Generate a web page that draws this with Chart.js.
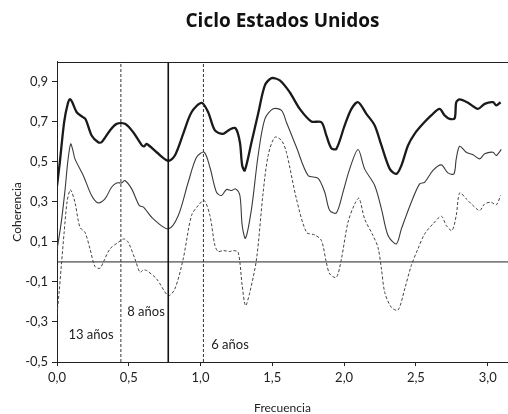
<!DOCTYPE html>
<html>
<head>
<meta charset="utf-8">
<script src="https://cdn.jsdelivr.net/npm/chart.js@4.4.1/dist/chart.umd.min.js"></script>
<style>
  body { margin: 0; background: #fff; }
  canvas { display: block; }
</style>
</head>
<body>
<canvas id="cohChart" width="508" height="414"></canvas>
<script>
/* jshint esversion: 6 */

// Tick labels
let xTicks = [0, 0.5, 1.0, 1.5, 2.0, 2.5, 3.0];
let yTicks = [-0.5, -0.3, -0.1, 0.1, 0.3, 0.5, 0.7, 0.9];
let yMin = -0.5;
let yMax = 1.0;

// Upper curve (thick solid)
let thickFreq = [0, 0.02, 0.05, 0.075, 0.09, 0.105, 0.137, 0.177, 0.2, 0.241, 0.287, 0.31, 0.369, 0.415, 0.473,
    0.531, 0.589, 0.607, 0.624, 0.694, 0.775, 0.821, 0.879, 0.937, 1.007, 1.053, 1.1, 1.157, 1.204, 1.244,
    1.274, 1.29, 1.308, 1.355, 1.401, 1.448, 1.494, 1.552, 1.621, 1.691, 1.772, 1.842, 1.876, 1.911, 1.946,
    2.004, 2.051, 2.097, 2.155, 2.213, 2.26, 2.318, 2.364, 2.399, 2.445, 2.491, 2.549, 2.607, 2.665, 2.7,
    2.735, 2.77, 2.781, 2.805, 2.863, 2.932, 2.979, 3.037, 3.06, 3.09];
let thickVals = [0.38, 0.5, 0.7, 0.79, 0.813, 0.8, 0.748, 0.725, 0.712, 0.632, 0.598, 0.598, 0.657, 0.69, 0.69,
    0.648, 0.585, 0.578, 0.59, 0.548, 0.505, 0.532, 0.64, 0.748, 0.795, 0.748, 0.657, 0.64, 0.662, 0.668,
    0.598, 0.482, 0.457, 0.598, 0.74, 0.882, 0.918, 0.907, 0.848, 0.765, 0.702, 0.698, 0.632, 0.568, 0.565,
    0.682, 0.765, 0.798, 0.74, 0.682, 0.582, 0.465, 0.44, 0.482, 0.582, 0.64, 0.69, 0.732, 0.765, 0.732,
    0.715, 0.718, 0.798, 0.812, 0.795, 0.765, 0.79, 0.798, 0.782, 0.798];

// Middle curve (thin solid)
let thinFreq = [0, 0.03, 0.056, 0.075, 0.095, 0.11, 0.125, 0.183, 0.241, 0.287, 0.334, 0.38, 0.415, 0.45, 0.473,
    0.52, 0.573, 0.6, 0.613, 0.671, 0.775, 0.845, 0.914, 0.972, 1.025, 1.065, 1.111, 1.146, 1.181, 1.216,
    1.244, 1.274, 1.29, 1.313, 1.355, 1.401, 1.448, 1.506, 1.564, 1.598, 1.668, 1.749, 1.819, 1.865, 1.9,
    1.946, 1.992, 2.039, 2.097, 2.143, 2.213, 2.26, 2.306, 2.364, 2.399, 2.468, 2.526, 2.561, 2.619, 2.677,
    2.723, 2.765, 2.781, 2.805, 2.851, 2.898, 2.944, 2.979, 3.037, 3.06, 3.095];
let thinVals = [0.06, 0.2, 0.36, 0.5, 0.59, 0.56, 0.515, 0.432, 0.332, 0.295, 0.315, 0.373, 0.395, 0.395, 0.407,
    0.365, 0.282, 0.275, 0.265, 0.215, 0.165, 0.232, 0.398, 0.523, 0.548, 0.473, 0.348, 0.332, 0.362, 0.357,
    0.365, 0.332, 0.182, 0.118, 0.265, 0.532, 0.715, 0.765, 0.757, 0.698, 0.573, 0.432, 0.418, 0.348, 0.257,
    0.245, 0.348, 0.465, 0.562, 0.465, 0.382, 0.265, 0.132, 0.09, 0.165, 0.298, 0.39, 0.398, 0.457, 0.485,
    0.445, 0.44, 0.515, 0.578, 0.548, 0.535, 0.515, 0.54, 0.548, 0.532, 0.562];

// Lower curve (dashed)
let dashFreq = [0, 0.015, 0.03, 0.05, 0.07, 0.09, 0.1, 0.125, 0.16, 0.195, 0.23, 0.264, 0.299, 0.322, 0.369,
    0.427, 0.466, 0.496, 0.543, 0.578, 0.6, 0.624, 0.694, 0.775, 0.821, 0.879, 0.937, 0.984, 1.025, 1.065,
    1.1, 1.123, 1.157, 1.204, 1.227, 1.262, 1.29, 1.313, 1.343, 1.39, 1.436, 1.471, 1.517, 1.564, 1.598,
    1.668, 1.738, 1.796, 1.842, 1.876, 1.9, 1.946, 1.981, 2.027, 2.074, 2.104, 2.143, 2.201, 2.236, 2.26,
    2.283, 2.329, 2.376, 2.422, 2.468, 2.514, 2.561, 2.619, 2.677, 2.712, 2.751, 2.781, 2.805, 2.851, 2.898,
    2.944, 2.979, 3.025, 3.06, 3.09];
let dashVals = [-0.26, -0.15, -0.02, 0.15, 0.3, 0.36, 0.355, 0.298, 0.173, 0.148, 0.065, -0.022, -0.032, -0.002, 0.065,
    0.098, 0.115, 0.098, 0.015, -0.052, -0.04, -0.043, -0.085, -0.168, -0.135, 0.015, 0.232, 0.282, 0.307, 0.232,
    0.082, 0.052, 0.057, 0.052, 0.057, 0.048, -0.118, -0.218, -0.152, 0.015, 0.348, 0.532, 0.623, 0.607, 0.548,
    0.315, 0.148, 0.135, 0.107, -0.002, -0.06, -0.077, 0.015, 0.198, 0.29, 0.318, 0.215, 0.132, 0.073, -0.035,
    -0.152, -0.227, -0.24, -0.135, -0.018, 0.065, 0.14, 0.19, 0.228, 0.182, 0.157, 0.232, 0.345, 0.315, 0.282,
    0.257, 0.29, 0.298, 0.285, 0.332];

// Cycle markers
let markerFreqs = [0.445, 0.775, 1.02];
let markerLabels = ["13 años", "8 años", "6 años"];

// where the marker texts sit, in data units
let labelSpots = [{x: 0.237, y: -0.365}, {x: 0.62, y: -0.25}, {x: 1.205, y: -0.415}];

const FONT = "Lato, 'Open Sans', sans-serif";
const TITLE_FONT = "'Open Sans', Lato, sans-serif";
const INK = "#222";

function pairs(xs, ys) {
    return xs.map((x, i) => ({x: x, y: ys[i]}));
}

function fmt(v) {
    return Number(v).toFixed(1).replace(".", ",");
}

// top frame line + marker texts
const frameAndNotes = {
    id: "frameAndNotes",
    afterDatasetsDraw(chart) {
        let ctx = chart.ctx;
        let area = chart.chartArea;
        ctx.save();
        ctx.strokeStyle = INK;
        ctx.lineWidth = 1;
        ctx.beginPath();
        ctx.moveTo(area.left, Math.round(area.top) + 0.5);
        ctx.lineTo(area.right, Math.round(area.top) + 0.5);
        ctx.stroke();

        ctx.font = "13px " + FONT;
        ctx.fillStyle = INK;
        ctx.textAlign = "center";
        ctx.textBaseline = "middle";
        markerLabels.forEach((txt, i) => {
            ctx.fillText(txt, chart.scales.x.getPixelForValue(labelSpots[i].x),
                chart.scales.y.getPixelForValue(labelSpots[i].y));
        });
        ctx.restore();
    }
};

let markerSets = markerFreqs.map((f, i) => ({
    data: [{x: f, y: yMin}, {x: f, y: yMax}],
    borderColor: i === 1 ? "#111" : "#333",
    borderWidth: i === 1 ? 1.6 : 1,
    borderDash: i === 1 ? [] : [3, 2],
    pointRadius: 0
}));

let curveSets = [
    {data: pairs(thickFreq, thickVals), borderColor: "#1a1a1a", borderWidth: 2.3, pointRadius: 0, tension: 0.3},
    {data: pairs(thinFreq, thinVals), borderColor: "#3a3a3a", borderWidth: 1.1, pointRadius: 0, tension: 0.3},
    {data: pairs(dashFreq, dashVals), borderColor: "#444", borderWidth: 1, borderDash: [3, 2], pointRadius: 0, tension: 0.3},
    {data: [{x: 0, y: 0}, {x: Math.PI, y: 0}], borderColor: INK, borderWidth: 1, pointRadius: 0}
];

new Chart(document.getElementById("cohChart"), {
    type: "line",
    data: {datasets: markerSets.concat(curveSets)},
    options: {
        responsive: false,
        animation: false,
        devicePixelRatio: 1,
        layout: {padding: 0},
        plugins: {
            legend: {display: false},
            tooltip: {enabled: false},
            title: {
                display: true,
                text: "Ciclo Estados Unidos",
                fullSize: false,
                color: "#111",
                font: {family: TITLE_FONT, size: 19, weight: "bold"},
                padding: {top: 10, bottom: 29}
            }
        },
        scales: {
            x: {
                type: "linear",
                min: 0,
                max: Math.PI,
                afterBuildTicks: axis => { axis.ticks = xTicks.map(v => ({value: v})); },
                afterFit: axis => { axis.height = 52; },
                ticks: {callback: fmt, color: INK, font: {family: FONT, size: 13}, padding: 4, maxRotation: 0, autoSkip: false},
                grid: {drawOnChartArea: false, drawTicks: true, tickLength: 4, color: INK},
                border: {display: true, color: INK, width: 1},
                title: {display: true, text: "Frecuencia", color: INK, font: {family: FONT, size: 12, lineHeight: 1}, padding: 0}
            },
            y: {
                min: yMin,
                max: yMax,
                afterBuildTicks: axis => { axis.ticks = yTicks.map(v => ({value: v})); },
                afterFit: axis => { axis.width = 57; },
                ticks: {callback: fmt, color: INK, font: {family: FONT, size: 13}, padding: 4},
                grid: {drawOnChartArea: false, drawTicks: true, tickLength: 5, color: INK},
                border: {display: true, color: INK, width: 1},
                title: {display: true, text: "Coherencia", color: INK, font: {family: FONT, size: 12, lineHeight: 1}, padding: {top: 11, bottom: 0}}
            }
        }
    },
    plugins: [frameAndNotes]
});
</script>
</body>
</html>
